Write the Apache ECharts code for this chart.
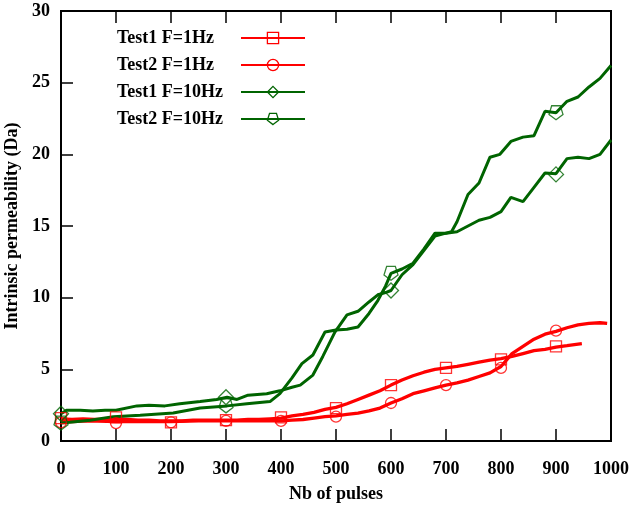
<!DOCTYPE html>
<html><head><meta charset="utf-8">
<script src="https://cdn.jsdelivr.net/npm/echarts@6/dist/echarts.min.js"></script>
<style>html,body{margin:0;padding:0;background:#fff}#c{width:629px;height:508px}</style>
</head><body><div id="c"></div>
<script>
const seriesNames = ['Test1 F=1Hz', 'Test2 F=1Hz', 'Test1 F=10Hz', 'Test2 F=10Hz'];
const xTicks = [0, 100, 200, 300, 400, 500, 600, 700, 800, 900, 1000];
const yTicks = [0, 5, 10, 15, 20, 25, 30];

const test1_1Hz = [[0,1.55],[20,1.5],[40,1.55],[60,1.5],[80,1.5],[100,1.55],[120,1.5],[140,1.45],[160,1.45],[180,1.4],[200,1.4],[220,1.4],[240,1.45],[260,1.45],[280,1.45],[300,1.45],[320,1.45],[340,1.5],[360,1.5],[380,1.55],[400,1.6],[420,1.75],[440,1.85],[460,2.0],[480,2.2],[500,2.35],[520,2.6],[540,2.9],[560,3.2],[580,3.5],[600,3.9],[620,4.25],[640,4.55],[660,4.8],[680,5.0],[700,5.1],[720,5.2],[740,5.35],[760,5.5],[780,5.65],[800,5.75],[820,5.9],[840,6.1],[860,6.3],[880,6.4],[900,6.55],[920,6.65],[947,6.8]];
const test2_1Hz = [[0,1.35],[20,1.35],[50,1.4],[100,1.35],[150,1.35],[200,1.35],[250,1.4],[300,1.4],[350,1.4],[400,1.4],[420,1.45],[440,1.5],[460,1.6],[480,1.7],[500,1.75],[520,1.85],[540,1.95],[560,2.1],[580,2.3],[600,2.65],[620,2.95],[640,3.3],[660,3.5],[680,3.7],[700,3.9],[720,4.05],[740,4.25],[760,4.5],[780,4.75],[800,5.2],[820,6.1],[840,6.6],[860,7.1],[880,7.45],[900,7.65],[920,7.9],[940,8.1],[960,8.2],[980,8.25],[993,8.2]];
const test1_10Hz = [[0,1.9],[10,2.15],[35,2.15],[58,2.1],[80,2.15],[100,2.15],[138,2.45],[160,2.5],[189,2.45],[216,2.6],[253,2.75],[283,2.9],[302,3.05],[320,2.9],[340,3.2],[374,3.3],[398,3.5],[420,3.75],[435,3.9],[458,4.6],[476,5.9],[498,7.6],[520,8.8],[540,9.05],[560,9.7],[576,10.2],[590,10.35],[600,10.5],[620,11.6],[640,12.3],[660,13.3],[680,14.3],[700,14.5],[720,14.6],[740,15.0],[760,15.4],[780,15.6],[800,16.0],[818,17.0],[840,16.7],[860,17.7],[880,18.7],[900,18.65],[920,19.7],[940,19.8],[960,19.7],[980,20.0],[1000,21.0]];
const test2_10Hz = [[0,1.25],[16,1.3],[53,1.45],[95,1.7],[144,1.8],[204,1.95],[253,2.3],[302,2.45],[338,2.6],[380,2.75],[398,3.3],[404,3.6],[420,4.4],[438,5.4],[458,6.0],[480,7.6],[500,7.75],[520,7.8],[540,7.95],[560,8.9],[576,9.8],[590,10.8],[600,11.7],[620,12.0],[640,12.4],[660,13.4],[680,14.5],[700,14.5],[710,14.6],[720,15.3],[740,17.2],[760,18.0],[780,19.8],[798,20.0],[818,20.9],[840,21.2],[860,21.3],[880,23.0],[900,22.9],[920,23.7],[940,24.0],[960,24.7],[980,25.3],[1000,26.2]];

const marks1_1Hz = [[0,1.6],[100,1.65],[200,1.3],[300,1.45],[400,1.65],[500,2.3],[600,3.9],[700,5.1],[800,5.7],[900,6.6]];
const marks2_1Hz = [[0,1.3],[100,1.25],[200,1.3],[300,1.4],[400,1.4],[500,1.7],[600,2.65],[700,3.9],[800,5.1],[900,7.7]];
const marks1_10Hz = [[0,1.9],[300,3.05],[600,10.5],[900,18.6]];
const marks2_10Hz = [[0,1.25],[300,2.45],[600,11.7],[900,22.9]];

const RED = '#ff0000', GREEN = '#006400';
const FONT = "'Liberation Serif', 'Times New Roman', serif";
const PENT = 'path://M0,1L0.951,0.309L0.588,-0.809L-0.588,-0.809L-0.951,0.309Z';
const lines = [test1_1Hz, test2_1Hz, test1_10Hz, test2_10Hz];
const marks = [marks1_1Hz, marks2_1Hz, marks1_10Hz, marks2_10Hz];
const colors = [RED, RED, GREEN, GREEN];
const symbols = ['rect', 'circle', 'diamond', PENT];
const markSizes = [11, 11, 15, 14];
const lineWidths = [3.3, 3.3, 3, 3];

const series = [];
lines.forEach((d, i) => {
  series.push({
    name: seriesNames[i], type: 'line', data: d, showSymbol: false, symbol: symbols[i],
    lineStyle: {color: colors[i], width: lineWidths[i]}, itemStyle: {color: colors[i]},
    z: 2, silent: true
  });
});
marks.forEach((d, i) => {
  series.push({
    name: 'marks' + i, type: 'scatter', data: d, symbol: symbols[i], symbolSize: markSizes[i],
    itemStyle: {color: 'rgba(0,0,0,0)', borderColor: colors[i], borderWidth: 1.3},
    z: 3, silent: true
  });
});

const chart = echarts.init(document.getElementById('c'), null, {renderer: 'canvas'});
const axisLbl = {fontFamily: FONT, fontWeight: 'bold', fontSize: 18, color: '#000'};
chart.setOption({
  animation: false,
  backgroundColor: '#fff',
  grid: {left: 61, right: 18, top: 11, bottom: 67, show: true, borderColor: '#000', borderWidth: 2, backgroundColor: 'transparent', containLabel: false, outerBoundsMode: 'none'},
  legend: {
    orient: 'vertical', left: 112, top: 24, align: 'right',
    itemWidth: 64, itemHeight: 14, itemGap: 9,
    data: seriesNames.map((n, i) => ({name: n, itemStyle: {color: 'rgba(0,0,0,0)', borderColor: colors[i], borderWidth: 1.3}})),
    formatter: n => '{a|' + n + '}',
    textStyle: {rich: {a: {width: 119, align: 'left', lineHeight: 14, fontFamily: FONT, fontWeight: 'bold', fontSize: 18, color: '#000'}}}
  },
  xAxis: [{
    type: 'value', min: xTicks[0], max: xTicks[xTicks.length - 1], interval: xTicks[1] - xTicks[0],
    name: 'Nb of pulses', nameLocation: 'middle', nameGap: 44,
    nameTextStyle: axisLbl,
    axisLine: {show: true, lineStyle: {color: '#000', width: 2}},
    axisTick: {show: true, inside: true, length: 12, lineStyle: {color: '#000', width: 1.5}},
    axisLabel: Object.assign({margin: 19, formatter: v => String(v)}, axisLbl),
    splitLine: {show: false}
  }, {
    type: 'value', position: 'top', min: xTicks[0], max: xTicks[xTicks.length - 1], interval: xTicks[1] - xTicks[0],
    axisLine: {show: true, lineStyle: {color: '#000', width: 2}},
    axisTick: {show: true, inside: true, length: 12, lineStyle: {color: '#000', width: 1.5}},
    axisLabel: {show: false}, splitLine: {show: false}
  }],
  yAxis: {
    type: 'value', min: yTicks[0], max: yTicks[yTicks.length - 1], interval: yTicks[1] - yTicks[0],
    name: 'Intrinsic permeability (Da)', nameLocation: 'middle', nameGap: 38, nameRotate: 90,
    nameTextStyle: axisLbl,
    axisLine: {show: true, lineStyle: {color: '#000', width: 2}},
    axisTick: {show: true, inside: true, length: 12, lineStyle: {color: '#000', width: 1.5}},
    axisLabel: Object.assign({margin: 11, formatter: v => String(v)}, axisLbl),
    splitLine: {show: false}
  },
  series: series
});
</script></body></html>
